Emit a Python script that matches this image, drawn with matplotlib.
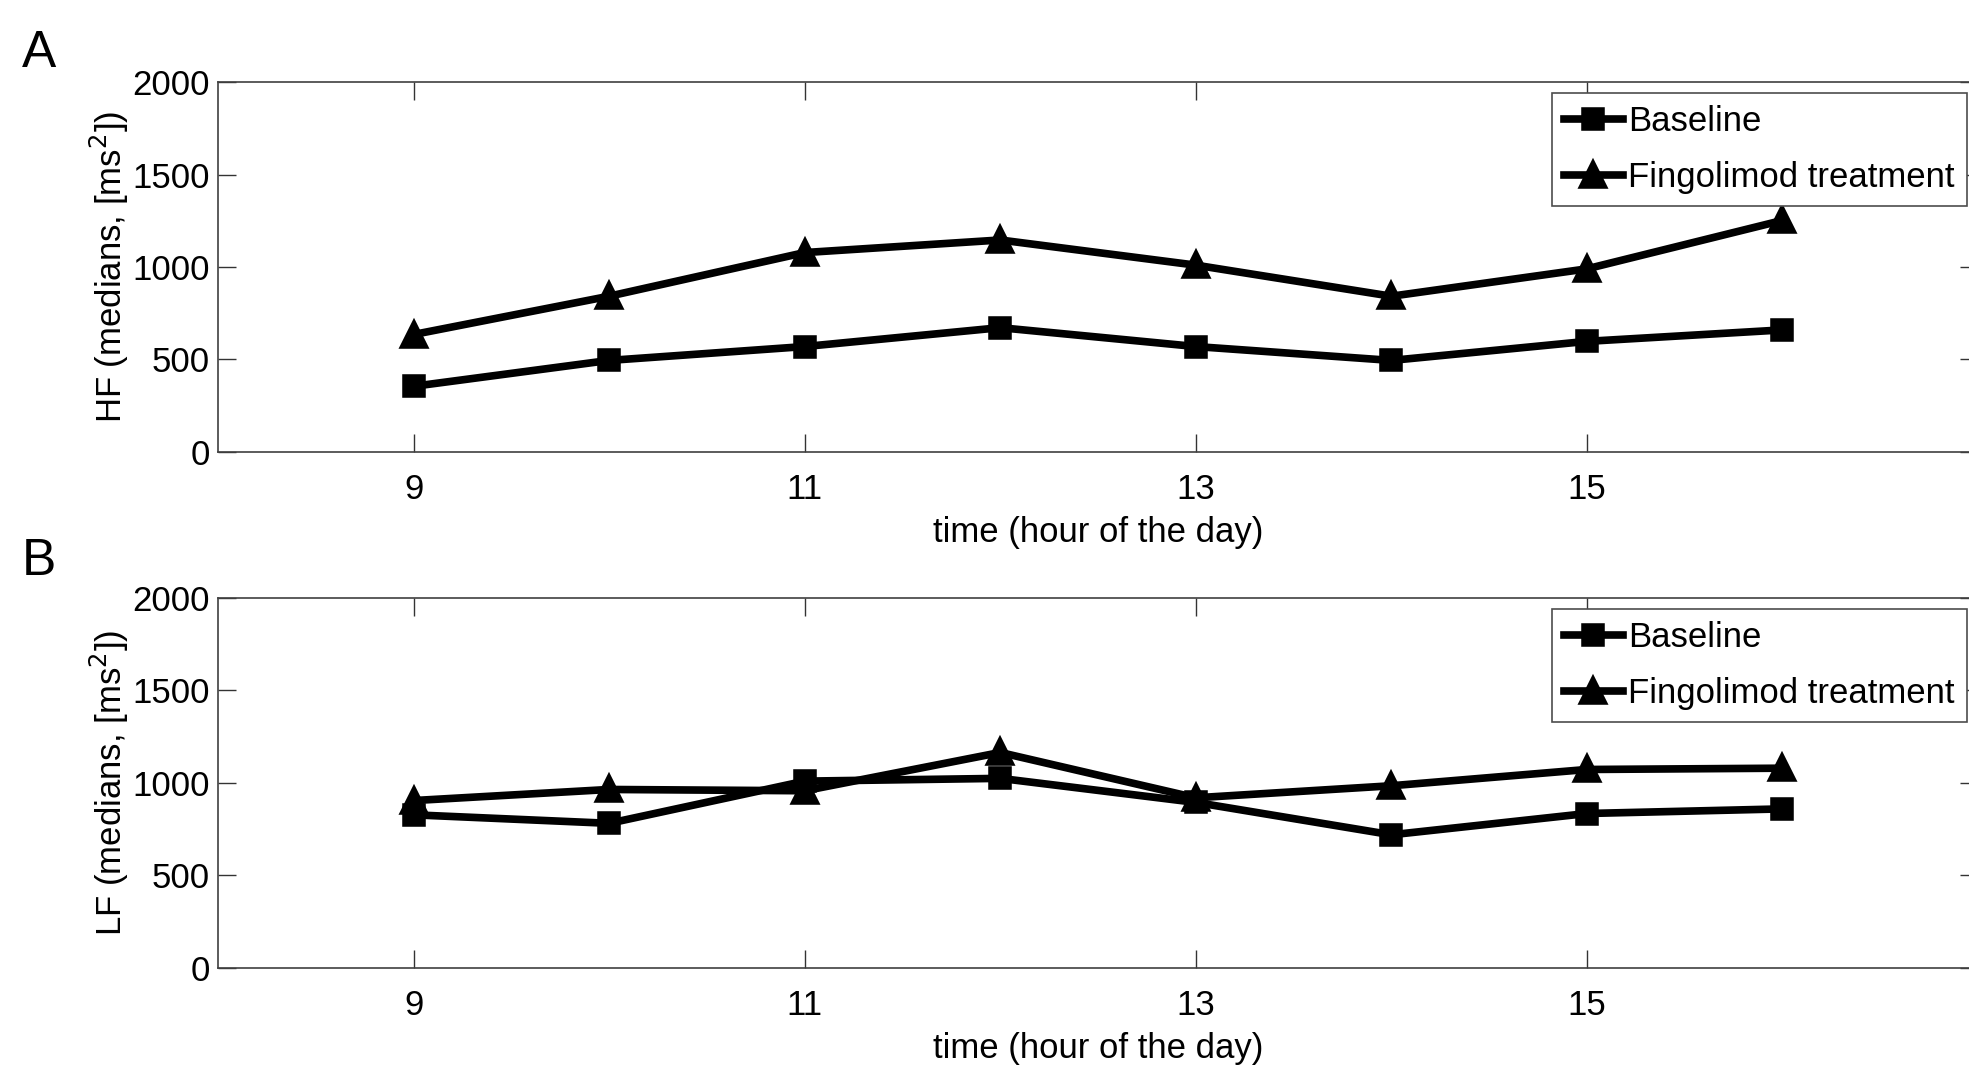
import matplotlib
matplotlib.use("Agg")
import matplotlib.pyplot as plt
from matplotlib import font_manager

# hour of the day
hours = [9, 10, 11, 12, 13, 14, 15, 16]

# panel A: HF medians
hf_baseline = [355, 495, 570, 672, 570, 495, 598, 660]
hf_fingolimod = [635, 842, 1078, 1146, 1010, 842, 990, 1252]

# panel B: LF medians
lf_baseline = [828, 782, 1010, 1025, 895, 720, 835, 860]
lf_fingolimod = [905, 965, 958, 1165, 920, 985, 1073, 1080]

xticks = [9, 11, 13, 15]
yticks = [0, 500, 1000, 1500, 2000]

names = {f.name for f in font_manager.fontManager.ttflist}
main_font = "Liberation Sans"
tick_font = "Liberation Sans Narrow" if "Liberation Sans Narrow" in names else main_font

plt.rcParams['font.family'] = [main_font, 'DejaVu Sans']

fig = plt.figure(figsize=(19.69, 10.65), dpi=100)

ax_a = fig.add_axes([0.1107, 0.5756, 0.8939, 0.3474])
ax_b = fig.add_axes([0.1107, 0.0911, 0.8939, 0.3474])

panels = [
    (ax_a, hf_baseline, hf_fingolimod, "HF (medians, [ms$^2$])", "A", 0.950),
    (ax_b, lf_baseline, lf_fingolimod, "LF (medians, [ms$^2$])", "B", 0.473),
]

for ax, base, fingo, ylab, letter, ly in panels:
    ax.plot(hours, base, color='black', lw=5.5, marker='s', ms=13, mew=4,
            label='Baseline')
    ax.plot(hours, fingo, color='black', lw=5.5, marker='^', ms=16, mew=4,
            label='Fingolimod treatment')
    ax.set_xlim(8, 17)
    ax.set_ylim(0, 2000)
    ax.set_xticks(xticks)
    ax.set_yticks(yticks)
    ax.tick_params(direction='in', length=13, width=1, top=True, right=True,
                   color='0.2', labelsize=25)
    ax.tick_params(axis='x', pad=15)
    ax.tick_params(axis='y', pad=6)
    for lbl in ax.get_xticklabels() + ax.get_yticklabels():
        lbl.set_fontfamily(tick_font)
    for sp in ax.spines.values():
        sp.set_color('0.25')
        sp.set_linewidth(1.2)
    ax.set_xlabel("time (hour of the day)", fontsize=25, labelpad=7)
    ax.set_ylabel(ylab, fontsize=25, labelpad=1)
    leg = ax.legend(loc='upper right', bbox_to_anchor=(0.9935, 0.97),
                    fontsize=25, frameon=True, fancybox=False, framealpha=1,
                    edgecolor='0.3', handlelength=1.7, handletextpad=0.15,
                    borderpad=0.35, labelspacing=0.65, borderaxespad=0)
    leg.get_frame().set_linewidth(1.2)
    fig.text(0.011, ly, letter, fontsize=37, ha='left', va='center')

fig.savefig("out.png", dpi=100)
